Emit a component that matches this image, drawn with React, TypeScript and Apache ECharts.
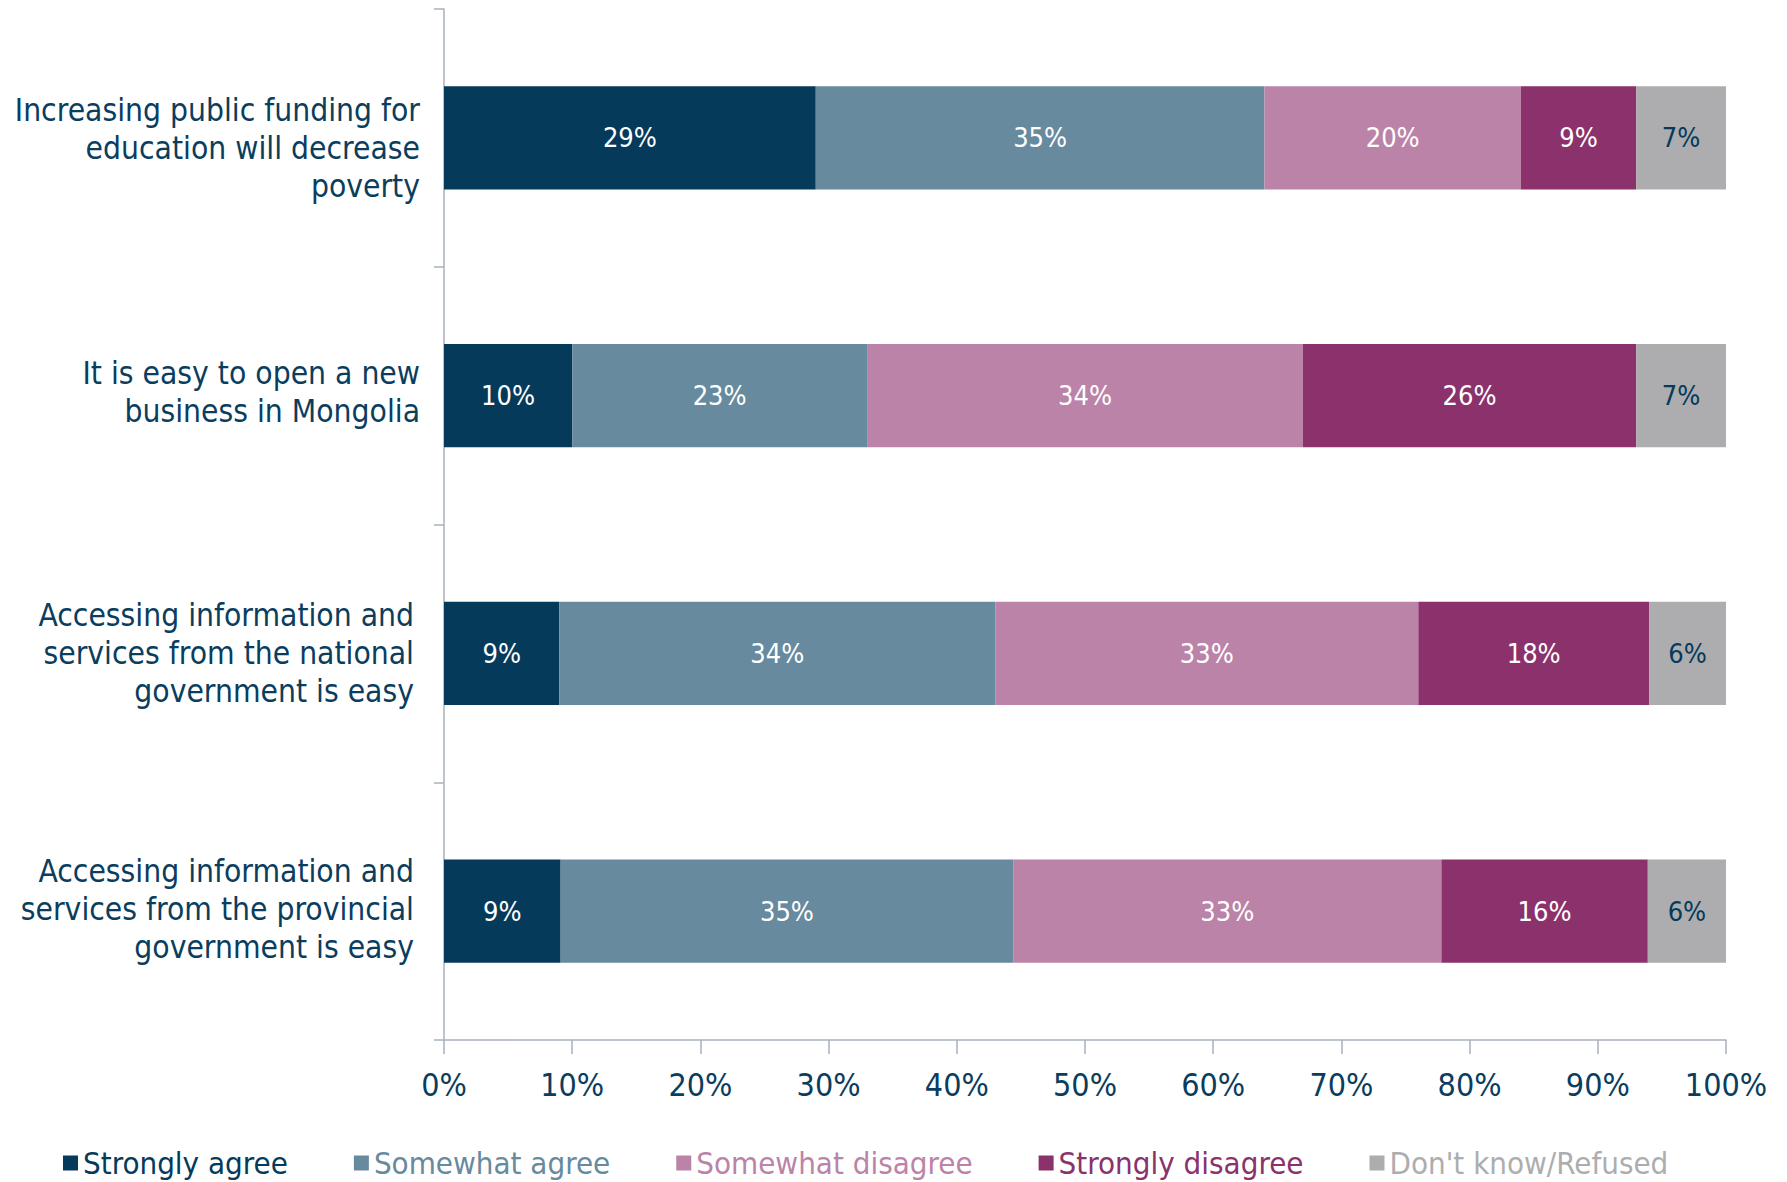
import React, { useEffect, useRef } from "react";
import * as echarts from "echarts";

const categories = [
  "Increasing public funding for\neducation will decrease\npoverty",
  "It is easy to open a new\nbusiness in Mongolia",
  "Accessing information and\nservices from the national\ngovernment is easy",
  "Accessing information and\nservices from the provincial\ngovernment is easy",
];

const seriesNames = [
  "Strongly agree",
  "Somewhat agree",
  "Somewhat disagree",
  "Strongly disagree",
  "Don't know/Refused",
];

const stronglyAgree = [29, 10, 9, 9.1];
const somewhatAgree = [35, 23, 34, 35.3];
const somewhatDisagree = [20, 34, 33, 33.4];
const stronglyDisagree = [9, 26, 18, 16.1];
const dontKnow = [7, 7, 6, 6.1];

const seriesValues = [stronglyAgree, somewhatAgree, somewhatDisagree, stronglyDisagree, dontKnow];
const colors = ["#053A5B", "#678A9E", "#BB83A8", "#8B316B", "#ADADAF"];
const labelColors = ["#FFFFFF", "#FFFFFF", "#FFFFFF", "#FFFFFF", "#053A5B"];

const xTicks = { min: 0, max: 100, interval: 10 };

// per-category label fine placement (vertical shift, right inset), in px
const labelShiftY = [10, -4, 0, -2];
const labelInsetX = [0, 0, 6, 6];

const TEXT_FONT = "'DejaVu Sans Condensed', 'DejaVu Sans', sans-serif";
const NAVY = "#0A3D5E";
const AXIS_GRAY = "#A9B0BA";

function formatCategory(value: string, index: number) {
  const lines = value.split("\n");
  const key = labelInsetX[index] ? "i" : "n";
  const body = lines.map((l) => `{${key}|${l}}`);
  const shift = labelShiftY[index] || 0;
  if (shift > 0) {
    body.unshift(`{s${Math.abs(shift) * 2}| }`);
  } else if (shift < 0) {
    body.push(`{s${Math.abs(shift) * 2}| }`);
  }
  return body.join("\n");
}

export default function App() {
  const ref = useRef<HTMLDivElement>(null);

  useEffect(() => {
    if (!ref.current) return;
    const chart = echarts.init(ref.current, null, { renderer: "svg" });
    const spacers: Record<string, any> = {};
    labelShiftY.forEach((s) => {
      const h = Math.abs(s) * 2;
      if (h) spacers["s" + h] = { fontSize: 1, lineHeight: h, height: h };
    });
    chart.setOption({
      animation: false,
      backgroundColor: "#FFFFFF",
      grid: { left: 444, right: 61, top: 9, bottom: 142, containLabel: false },
      legend: {
        left: 58,
        top: 1141,
        itemWidth: 15,
        itemHeight: 15,
        itemGap: 66,
        icon: "rect",
        data: seriesNames.map((n, i) => ({
          name: n,
          textStyle: { color: colors[i], fontFamily: TEXT_FONT, fontSize: 31, lineHeight: 34 },
        })),
      },
      xAxis: {
        type: "value",
        min: xTicks.min,
        max: xTicks.max,
        interval: xTicks.interval,
        axisLine: { show: true, lineStyle: { color: AXIS_GRAY, width: 1.5 } },
        axisTick: { show: true, length: 14, lineStyle: { color: AXIS_GRAY, width: 1.5 } },
        splitLine: { show: false },
        axisLabel: {
          formatter: "{value}%",
          color: NAVY,
          fontFamily: TEXT_FONT,
          fontSize: 32,
          margin: 29,
        },
      },
      yAxis: {
        type: "category",
        inverse: true,
        data: categories,
        axisLine: { show: true, lineStyle: { color: AXIS_GRAY, width: 1.5 } },
        axisTick: { show: true, length: 10, lineStyle: { color: AXIS_GRAY, width: 1.5 } },
        axisLabel: {
          color: NAVY,
          fontFamily: TEXT_FONT,
          fontSize: 31.5,
          lineHeight: 38,
          align: "right",
          margin: 24,
          formatter: formatCategory,
          rich: {
            n: { color: NAVY, fontFamily: TEXT_FONT, fontSize: 31.5, lineHeight: 38 },
            i: {
              color: NAVY,
              fontFamily: TEXT_FONT,
              fontSize: 31.5,
              lineHeight: 38,
              padding: [0, 6, 0, 0],
            },
            ...spacers,
          },
        },
      },
      series: seriesNames.map((n, i) => ({
        name: n,
        type: "bar",
        stack: "total",
        barWidth: "40%",
        data: seriesValues[i],
        itemStyle: { color: colors[i] },
        label: {
          show: true,
          position: "inside",
          color: labelColors[i],
          fontFamily: TEXT_FONT,
          fontSize: 27,
          formatter: (p: any) => Math.round(p.value) + "%",
        },
      })),
    });
    return () => chart.dispose();
  }, []);

  return (
    <div
      ref={ref}
      style={{ position: "fixed", left: 0, top: 0, width: 1787, height: 1182 }}
    />
  );
}
